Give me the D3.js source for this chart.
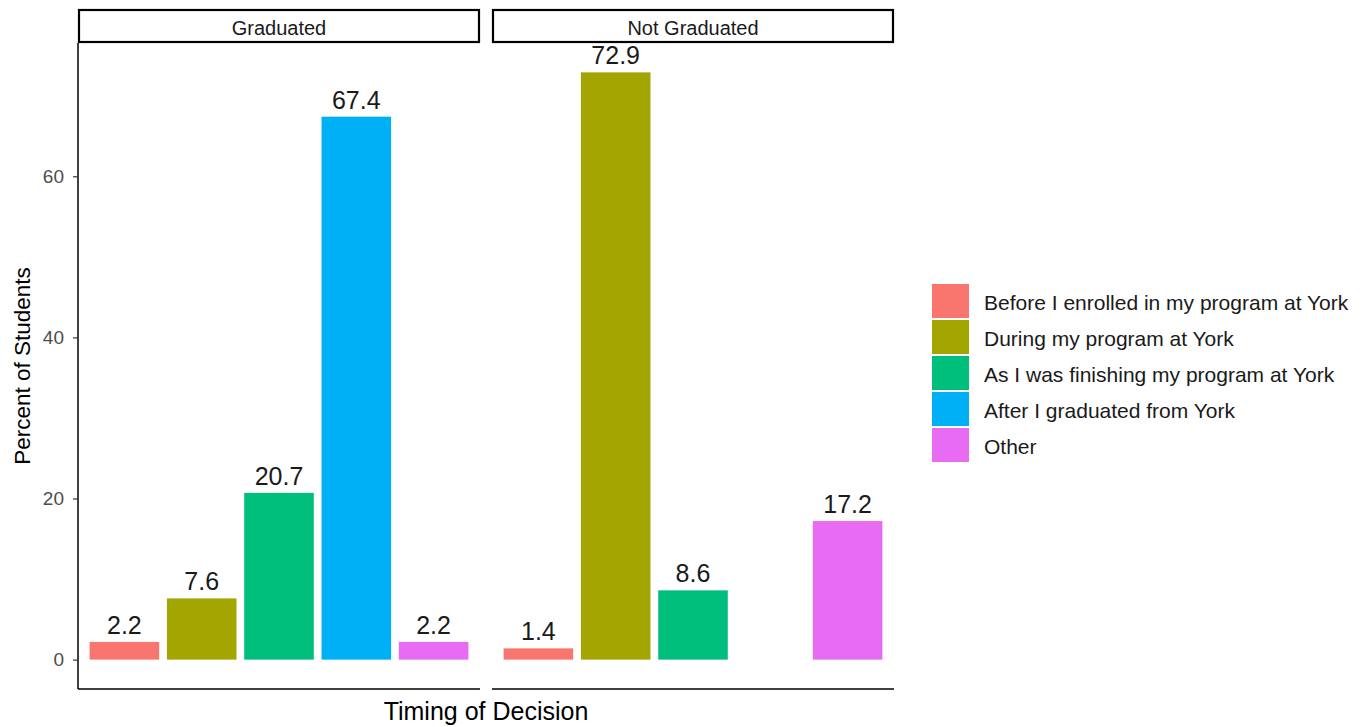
<!DOCTYPE html>
<html>
<head>
<meta charset="utf-8">
<script src="https://cdn.jsdelivr.net/npm/d3@7"></script>
<style>
  html, body { margin: 0; padding: 0; background: #ffffff; }
  svg { display: block; font-family: "Liberation Sans", Arial, sans-serif; }
</style>
</head>
<body>
<svg id="chart" width="1368" height="727"></svg>
<script>
// ---- data ----
const categories = [
  "Before I enrolled in my program at York",
  "During my program at York",
  "As I was finishing my program at York",
  "After I graduated from York",
  "Other"
];
const colors = ["#F8766D", "#A3A500", "#00BF7D", "#00B0F6", "#E76BF3"];
const facets = ["Graduated", "Not Graduated"];
const graduatedValues = [2.2, 7.6, 20.7, 67.4, 2.2];
const notGraduatedValues = [1.4, 72.9, 8.6, null, 17.2];
const yTicks = [0, 20, 40, 60];

const facetValues = [graduatedValues, notGraduatedValues];

const svg = d3.select("#chart");
const panelW = 402, panelGap = 12;
const panelX0 = 78;
const panelTop = 43, panelBottom = 689;
const stripTop = 9;

const y = d3.scaleLinear().domain([-3.645, 76.545]).range([panelBottom, panelTop]);
const color = d3.scaleOrdinal().domain(categories).range(colors);

facets.forEach((f, i) => {
  const x0 = panelX0 + i * (panelW + panelGap);
  const x = d3.scaleBand().domain(categories).range([x0, x0 + panelW])
    .paddingInner(0.1).paddingOuter(0.15);
  const g = svg.append("g");

  // strip
  g.append("rect")
    .attr("x", x0 + 1).attr("y", stripTop + 1)
    .attr("width", panelW - 2).attr("height", panelTop - stripTop - 2)
    .attr("fill", "#ffffff").attr("stroke", "#000000").attr("stroke-width", 2.2);
  g.append("text")
    .attr("x", x0 + panelW / 2).attr("y", (stripTop + panelTop) / 2 + 2)
    .attr("text-anchor", "middle").attr("dominant-baseline", "central")
    .attr("font-size", 20).attr("fill", "#1a1a1a").text(f);

  const data = categories.map((c, k) => ({ cat: c, value: facetValues[i][k] }))
    .filter(d => d.value !== null);

  g.selectAll("rect.bar").data(data).enter().append("rect")
    .attr("class", "bar")
    .attr("x", d => x(d.cat)).attr("width", x.bandwidth())
    .attr("y", d => y(d.value)).attr("height", d => y(0) - y(d.value))
    .attr("fill", d => color(d.cat));

  g.selectAll("text.lbl").data(data).enter().append("text")
    .attr("class", "lbl")
    .attr("x", d => x(d.cat) + x.bandwidth() / 2)
    .attr("y", d => y(d.value) - 8)
    .attr("text-anchor", "middle")
    .attr("font-size", 25).attr("fill", "#1a1a1a")
    .text(d => d.value.toFixed(1));

  // bottom axis line
  g.append("line")
    .attr("x1", x0).attr("x2", x0 + panelW)
    .attr("y1", panelBottom).attr("y2", panelBottom)
    .attr("stroke", "#000000").attr("stroke-width", 1.5);

  if (i === 0) {
    const yAxis = d3.axisLeft(y).tickValues(yTicks).tickSize(5).tickPadding(9);
    const ag = svg.append("g").attr("transform", `translate(${x0},0)`).call(yAxis);
    ag.select(".domain").attr("d", `M0,${panelTop}V${panelBottom}`)
      .attr("stroke", "#000000").attr("stroke-width", 1.5);
    ag.selectAll(".tick line").attr("stroke", "#333333").attr("stroke-width", 1.2);
    ag.selectAll(".tick text").attr("font-size", 19).attr("fill", "#4d4d4d")
      .attr("font-family", "'Liberation Sans', Arial, sans-serif");
  }
});

// axis titles
svg.append("text")
  .attr("x", panelX0 + (2 * panelW + panelGap) / 2).attr("y", 720)
  .attr("text-anchor", "middle").attr("font-size", 25).attr("fill", "#000000")
  .text("Timing of Decision");
svg.append("text")
  .attr("transform", `translate(30,${(panelTop + panelBottom) / 2}) rotate(-90)`)
  .attr("text-anchor", "middle").attr("font-size", 22.5).attr("fill", "#000000")
  .text("Percent of Students");

// legend
const legend = svg.append("g").attr("transform", "translate(932,283)");
const keyH = 36, keyW = 37;
categories.forEach((c, k) => {
  const lg = legend.append("g").attr("transform", `translate(0,${k * keyH})`);
  lg.append("rect").attr("x", 0).attr("y", 1).attr("width", keyW).attr("height", keyH - 2)
    .attr("fill", color(c));
  lg.append("text").attr("x", 52).attr("y", keyH / 2 + 1)
    .attr("dominant-baseline", "central")
    .attr("font-size", 21).attr("fill", "#1a1a1a").text(c);
});
</script>
</body>
</html>
